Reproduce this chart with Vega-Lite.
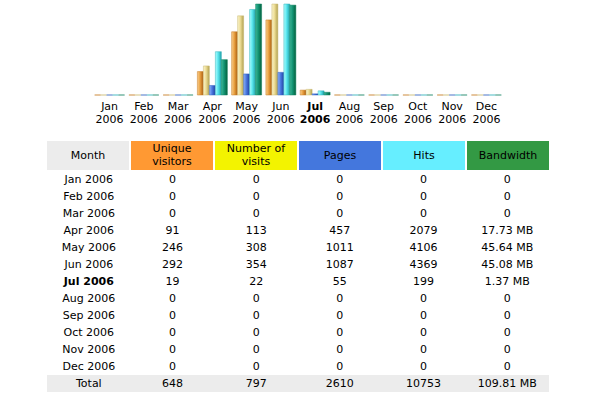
{
  "$schema": "https://vega.github.io/schema/vega-lite/v6.json",
  "padding": {"left": 46, "top": 3, "right": 0, "bottom": 0},
  "background": "white",
  "spacing": 17,
  "center": true,
  "config": {"view": {"stroke": null}, "font": "DejaVu Sans"},
  "datasets": {
    "stats": [
      {"month": "Jan", "label": "Jan 2006", "u": 0, "v": 0, "p": 0, "h": 0, "bw": 0, "bwText": "0"},
      {"month": "Feb", "label": "Feb 2006", "u": 0, "v": 0, "p": 0, "h": 0, "bw": 0, "bwText": "0"},
      {"month": "Mar", "label": "Mar 2006", "u": 0, "v": 0, "p": 0, "h": 0, "bw": 0, "bwText": "0"},
      {"month": "Apr", "label": "Apr 2006", "u": 91, "v": 113, "p": 457, "h": 2079, "bw": 17.73, "bwText": "17.73 MB"},
      {"month": "May", "label": "May 2006", "u": 246, "v": 308, "p": 1011, "h": 4106, "bw": 45.64, "bwText": "45.64 MB"},
      {"month": "Jun", "label": "Jun 2006", "u": 292, "v": 354, "p": 1087, "h": 4369, "bw": 45.08, "bwText": "45.08 MB"},
      {"month": "Jul", "label": "Jul 2006", "u": 19, "v": 22, "p": 55, "h": 199, "bw": 1.37, "bwText": "1.37 MB"},
      {"month": "Aug", "label": "Aug 2006", "u": 0, "v": 0, "p": 0, "h": 0, "bw": 0, "bwText": "0"},
      {"month": "Sep", "label": "Sep 2006", "u": 0, "v": 0, "p": 0, "h": 0, "bw": 0, "bwText": "0"},
      {"month": "Oct", "label": "Oct 2006", "u": 0, "v": 0, "p": 0, "h": 0, "bw": 0, "bwText": "0"},
      {"month": "Nov", "label": "Nov 2006", "u": 0, "v": 0, "p": 0, "h": 0, "bw": 0, "bwText": "0"},
      {"month": "Dec", "label": "Dec 2006", "u": 0, "v": 0, "p": 0, "h": 0, "bw": 0, "bwText": "0"},
      {"month": "Total", "label": "Total", "u": 648, "v": 797, "p": 2610, "h": 10753, "bw": 109.81, "bwText": "109.81 MB"}
    ],
    "headers": [
      {"col": "label", "title": "Month"},
      {"col": "u", "title": "Unique\nvisitors"},
      {"col": "v", "title": "Number of\nvisits"},
      {"col": "p", "title": "Pages"},
      {"col": "h", "title": "Hits"},
      {"col": "bwText", "title": "Bandwidth"}
    ]
  },
  "vconcat": [
    {
      "width": 441,
      "height": 91,
      "data": {"name": "stats"},
      "transform": [
        {"filter": "datum.month != 'Total'"},
        {"fold": ["u", "v", "p", "h", "bw"], "as": ["metric", "value"]}
      ],
      "encoding": {
        "x": {
          "field": "month", "type": "nominal", "sort": null,
          "scale": {"domain": ["Jan","Feb","Mar","Apr","May","Jun","Jul","Aug","Sep","Oct","Nov","Dec"], "paddingInner": 0.125, "paddingOuter": 0.5},
          "axis": {
            "title": null, "domain": false, "ticks": false, "labelAngle": 0,
            "labelExpr": "[datum.value, '2006']",
            "labelFont": "DejaVu Sans", "labelFontSize": 11, "labelColor": "#000000",
            "labelLineHeight": 13, "labelPadding": 5,
            "labelFontWeight": {"condition": {"test": "datum.value == 'Jul'", "value": "bold"}, "value": "normal"}
          }
        },
        "xOffset": {"field": "metric", "type": "nominal", "scale": {"domain": ["u","v","p","h","bw"], "paddingInner": 0, "paddingOuter": 0}}
      },
      "layer": [
        {
          "transform": [{"filter": "datum.metric == 'u'"}],
          "mark": {"type": "bar", "stroke": "#c47a20", "strokeWidth": 0.5, "fill": {"gradient": "linear", "x1": 0, "x2": 1, "y1": 0, "y2": 0, "stops": [{"offset": 0, "color": "#f9cf8f"}, {"offset": 0.45, "color": "#e9a040"}, {"offset": 1, "color": "#a85c10"}]}},
          "encoding": {"y": {"field": "value", "type": "quantitative", "scale": {"domain": [0, 354], "nice": false}, "axis": null}}
        },
        {
          "transform": [{"filter": "datum.metric == 'v'"}],
          "mark": {"type": "bar", "stroke": "#c8b870", "strokeWidth": 0.5, "fill": {"gradient": "linear", "x1": 0, "x2": 1, "y1": 0, "y2": 0, "stops": [{"offset": 0, "color": "#fbf4cc"}, {"offset": 0.45, "color": "#ecdc94"}, {"offset": 1, "color": "#b0a050"}]}},
          "encoding": {"y": {"field": "value", "type": "quantitative", "scale": {"domain": [0, 354], "nice": false}, "axis": null}}
        },
        {
          "transform": [{"filter": "datum.metric == 'p'"}],
          "mark": {"type": "bar", "stroke": "#3060c0", "strokeWidth": 0.5, "fill": {"gradient": "linear", "x1": 0, "x2": 1, "y1": 0, "y2": 0, "stops": [{"offset": 0, "color": "#90b4f8"}, {"offset": 0.45, "color": "#4a78e0"}, {"offset": 1, "color": "#2040a0"}]}},
          "encoding": {"y": {"field": "value", "type": "quantitative", "scale": {"domain": [0, 4369], "nice": false}, "axis": null}}
        },
        {
          "transform": [{"filter": "datum.metric == 'h'"}],
          "mark": {"type": "bar", "stroke": "#30b0b8", "strokeWidth": 0.5, "fill": {"gradient": "linear", "x1": 0, "x2": 1, "y1": 0, "y2": 0, "stops": [{"offset": 0, "color": "#b0ffff"}, {"offset": 0.45, "color": "#5ae6ee"}, {"offset": 1, "color": "#20a0a8"}]}},
          "encoding": {"y": {"field": "value", "type": "quantitative", "scale": {"domain": [0, 4369], "nice": false}, "axis": null}}
        },
        {
          "transform": [{"filter": "datum.metric == 'bw'"}],
          "mark": {"type": "bar", "stroke": "#108060", "strokeWidth": 0.5, "fill": {"gradient": "linear", "x1": 0, "x2": 1, "y1": 0, "y2": 0, "stops": [{"offset": 0, "color": "#40b898"}, {"offset": 0.45, "color": "#139474"}, {"offset": 1, "color": "#04603c"}]}},
          "encoding": {"y": {"field": "value", "type": "quantitative", "scale": {"domain": [0, 45.64], "nice": false}, "axis": null}}
        }
      ],
      "resolve": {"scale": {"y": "independent"}}
    },
    {
      "spacing": 1,
      "vconcat": [
        {
          "width": 502,
          "height": 29,
          "data": {"name": "headers"},
          "encoding": {
            "x": {"field": "col", "type": "nominal", "sort": null, "scale": {"domain": ["label","u","v","p","h","bwText"], "paddingInner": 0.0238, "paddingOuter": 0}, "axis": null}
          },
          "layer": [
            {
              "mark": {"type": "rect"},
              "encoding": {
                "color": {"field": "col", "type": "nominal", "legend": null, "scale": {"domain": ["label","u","v","p","h","bwText"], "range": ["#ececec","#ff9933","#f3f300","#4477dd","#66eeff","#339944"]}}
              }
            },
            {
              "transform": [{"filter": "datum.col != 'u' && datum.col != 'v'"}],
              "mark": {"type": "text", "font": "DejaVu Sans", "fontSize": 11, "color": "#000000", "baseline": "middle"},
              "encoding": {"text": {"field": "title", "type": "nominal"}}
            },
            {
              "transform": [{"filter": "datum.col == 'u' || datum.col == 'v'"}],
              "mark": {"type": "text", "font": "DejaVu Sans", "fontSize": 11, "color": "#000000", "lineBreak": "\n", "lineHeight": 13, "baseline": "middle", "dy": -6.5},
              "encoding": {"text": {"field": "title", "type": "nominal"}}
            }
          ]
        },
        {
          "width": 502,
          "height": 221,
          "data": {"name": "stats"},
          "transform": [
            {"fold": ["label", "u", "v", "p", "h", "bwText"], "as": ["col", "val"]}
          ],
          "encoding": {
            "y": {"field": "label", "type": "nominal", "sort": null, "scale": {"domain": ["Jan 2006","Feb 2006","Mar 2006","Apr 2006","May 2006","Jun 2006","Jul 2006","Aug 2006","Sep 2006","Oct 2006","Nov 2006","Dec 2006","Total"], "paddingInner": 0, "paddingOuter": 0}, "axis": null}
          },
          "layer": [
            {
              "transform": [{"filter": "datum.label == 'Total' && datum.col == 'label'"}],
              "mark": {"type": "rect", "color": "#ececec"},
              "encoding": {}
            },
            {
              "transform": [{"filter": "!(datum.label == 'Jul 2006' && datum.col == 'label')"}],
              "mark": {"type": "text", "font": "DejaVu Sans", "fontSize": 11, "color": "#000000"},
              "encoding": {
                "x": {"field": "col", "type": "nominal", "sort": null, "scale": {"domain": ["label","u","v","p","h","bwText"], "paddingInner": 0.0238, "paddingOuter": 0}, "axis": null},
                "text": {"field": "val", "type": "nominal"}
              }
            },
            {
              "transform": [{"filter": "datum.label == 'Jul 2006' && datum.col == 'label'"}],
              "mark": {"type": "text", "font": "DejaVu Sans", "fontSize": 11, "fontWeight": "bold", "color": "#000000"},
              "encoding": {
                "x": {"field": "col", "type": "nominal", "sort": null, "scale": {"domain": ["label","u","v","p","h","bwText"], "paddingInner": 0.0238, "paddingOuter": 0}, "axis": null},
                "text": {"field": "val", "type": "nominal"}
              }
            }
          ]
        }
      ]
    }
  ]
}
